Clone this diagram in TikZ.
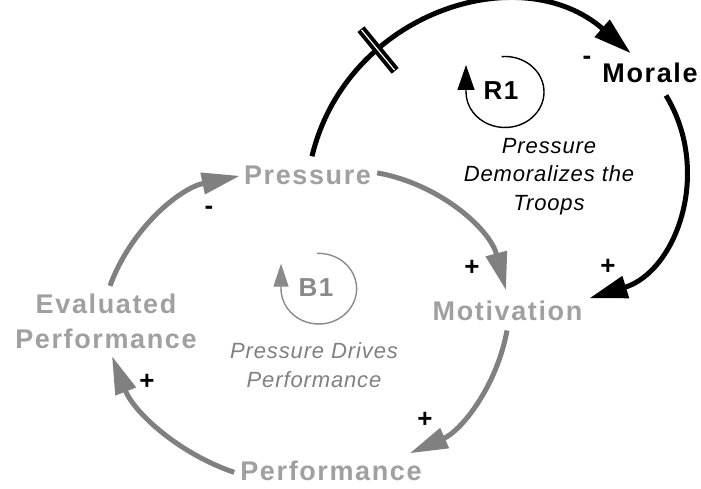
\documentclass[tikz,border=0pt]{standalone}
\usepackage{fontspec}
\setmainfont{Liberation Sans}
\newfontfamily\spaced[LetterSpace=6]{Liberation Sans}
\newfontfamily\spacedi[LetterSpace=4]{Liberation Sans}
\usetikzlibrary{arrows.meta}
\definecolor{arcgray}{HTML}{808080}
\definecolor{labgray}{HTML}{A0A0A0}
\definecolor{loopgray}{HTML}{8A8A8A}
\begin{document}
\begin{tikzpicture}[x=1pt,y=1pt,
  var/.style={font=\spaced\bfseries\fontsize{27}{35}\selectfont, text=labgray, inner sep=0pt, anchor=base},
  pol/.style={font=\bfseries\fontsize{26}{26}\selectfont, inner sep=0pt},
  lbl/.style={font=\spacedi\itshape\fontsize{22}{28.5}\selectfont, align=center, inner sep=0pt},
  looplbl/.style={font=\spaced\bfseries\fontsize{26}{26}\selectfont, inner sep=0pt, anchor=base},
  glink/.style={draw=arcgray, line width=5pt, -{Triangle[length=38pt,width=21pt]}},
  blink/.style={draw=black, line width=5pt, -{Triangle[length=38pt,width=22pt]}},
  hashbar/.style={fill=black, inner sep=0pt, minimum width=9pt, minimum height=54pt},
  hashgap/.style={fill=white, inner sep=0pt, minimum width=1.2pt, minimum height=52pt},
  loopline/.style={line width=1.4pt, -{Triangle[length=25pt,width=17pt]}}
]
\fill[white] (0,0) rectangle (701,488);
\useasboundingbox (0,0) rectangle (701,488);

% variables
\node[var] (pres) at (307.5,303) {Pressure};
\node[var, text=black] (morale) at (650,405) {Morale};
\node[var] (motiv) at (507.5,168) {Motivation};
\node[var] (perf) at (331,8) {Performance};
\node[var, anchor=center, align=center] (eval) at (106,166.5) {Evaluated\\Performance};

% loop labels
\node[looplbl] (r1) at (501,388) {R1};
\node[looplbl, text=loopgray] (b1) at (316,191.3) {B1};
\node[lbl] (r1lbl) at (549,311.7) {Pressure\\Demoralizes the\\Troops};
\node[lbl, text=arcgray] (b1lbl) at (314,123) {Pressure Drives\\Performance};

% gray loop
\draw[glink] ([xshift=4pt,yshift=8pt]eval.north) .. controls +(21,57.5) and +(-60,-12.3) .. ([xshift=-4pt]pres.west);
\draw[glink] ([xshift=6pt,yshift=3pt]pres.east) .. controls +(62.5,-11.2) and +(-16.2,61.4) .. ([xshift=-1.5pt,yshift=10pt]motiv.north);
\draw[glink] ([xshift=-0.5pt,yshift=-10pt]motiv.south) .. controls +(-10.2,-55.6) and +(51.8,22.6) .. ([xshift=-12pt,yshift=7pt]perf.north east);
\draw[glink] ([xshift=-6pt,yshift=-2pt]perf.west) .. controls +(-56.4,19.2) and +(21.6,-55.6) .. ([xshift=6pt,yshift=-7pt]eval.south);

% black loop
\draw[blink] ([xshift=4.5pt,yshift=10pt]pres.north) .. controls +(34.4,143.2) and +(-111,96.8) .. node[pos=0.31, sloped, hashbar] (hb) {} node[pos=0.31, sloped, hashgap] (hg) {} ([xshift=28.5pt,yshift=10pt]morale.north west);
\draw[blink] ([xshift=16pt,yshift=-12pt]morale.south) .. controls +(46.8,-77.3) and +(86.4,26.6) .. ([xshift=7pt,yshift=2pt]motiv.north east);

% polarities
\node[pol] (s1) at (587,428) {-};
\node[pol] (s2) at (608,221) {+};
\node[pol] (s3) at (472,220) {+};
\node[pol] (s4) at (209,278) {-};
\node[pol] (s5) at (147,106) {+};
\node[pol] (s6) at (425,68) {+};

% loop symbols
\coordinate (r1c) at (505,396);
\draw[loopline, draw=black] (r1c) ++(95:39 and 35.5) arc[start angle=95, end angle=-180, x radius=39, y radius=35.5] -- ++(0,27);
\coordinate (b1c) at (318.8,199.3);
\draw[loopline, draw=loopgray, -{Triangle[length=23pt,width=15pt,fill=loopgray]}] (b1c) ++(93:37.8 and 35.3) arc[start angle=93, end angle=-180, x radius=37.8, y radius=35.3] -- ++(0,25);
\end{tikzpicture}
\end{document}
